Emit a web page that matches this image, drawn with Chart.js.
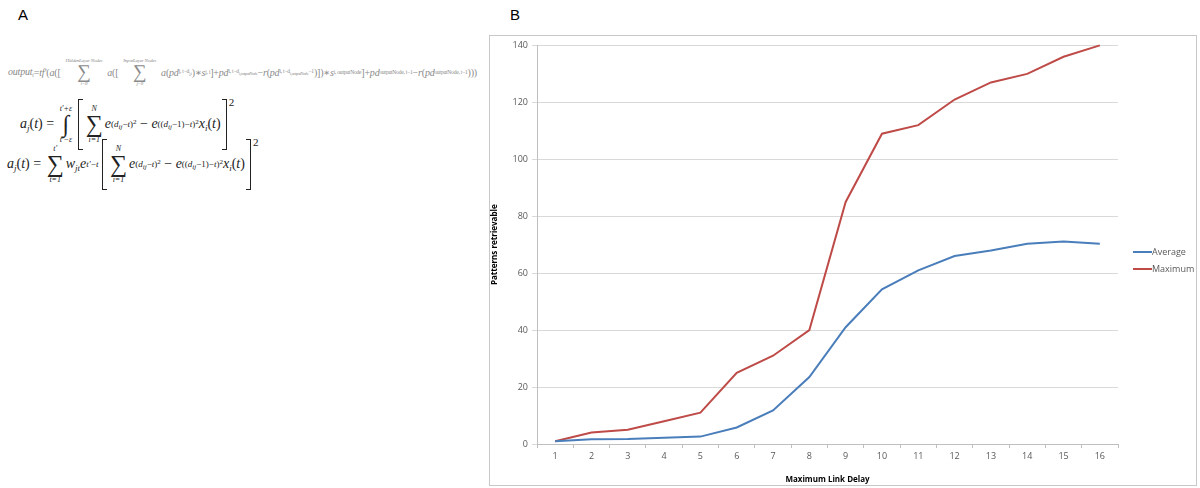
<!DOCTYPE html>
<html>
<head>
<meta charset="utf-8">
<script src="https://cdn.jsdelivr.net/npm/chart.js@4/dist/chart.umd.min.js"></script>
<style>
  html, body { margin: 0; padding: 0; background: #fff; }
  body { width: 1200px; height: 488px; position: relative; overflow: hidden; }
  .panel { position: absolute; font-family: "Liberation Sans", Arial, sans-serif; font-size: 15px; color: #000; }
  .eq { position: absolute; font-family: "Liberation Serif", "DejaVu Serif", serif; white-space: nowrap; display: flex; align-items: center; }
  .eq i { font-style: italic; }
  .lim { display: inline-flex; flex-direction: column; align-items: center; line-height: 1; margin: 0 2px; }
  .lim small { font-size: 8px; font-style: italic; }
  .lim .big { font-size: 24px; line-height: 0.95; }
  .brk { position: relative; display: inline-flex; align-items: center; padding: 3px 6px; }
  .brk::before, .brk::after { content: ""; position: absolute; top: -3px; bottom: -3px; width: 4px; border-top: 1px solid #222; border-bottom: 1px solid #222; }
  .brk::before { left: 0; border-left: 1.5px solid #222; }
  .brk::after { right: 0; border-right: 1.5px solid #222; }
  .eq sup { font-size: 9px; vertical-align: 7px; }
  .eq sub { font-size: 9px; vertical-align: -3px; }
  .eq sup sup { font-size: 7px; vertical-align: 3px; }
  .eq sup sub { font-size: 7px; vertical-align: -2px; }
  .outer { align-self: flex-start; font-size: 11px; margin-top: -6px; margin-left: 2px; }
  #eq1 { color: #8a8a8a; font-size: 10px; letter-spacing: -0.2px; }
  #eq1 .lim small { font-size: 5px; }
  #eq1 .lim .big { font-size: 19px; }
  #eq1 sub { font-size: 5.5px; vertical-align: -2px; }
  #eq1 sub sub { font-size: 4px; }
  #eq2, #eq3 { color: #222; font-size: 14px; }
  #box { position: absolute; left: 489px; top: 35px; width: 706px; height: 449px; border: 1px solid #c8c8c8; }
</style>
</head>
<body>
<div class="panel" style="left:18px; top:6px;">A</div>
<div class="panel" style="left:510px; top:6px;">B</div>

<div class="eq" id="eq1" style="left:8px; top:58px;">
  <i>output<sub>t</sub></i>=<i>tf′</i>(<i>a</i>([
  <span class="lim" style="margin:0 5px 0 5px"><small>HiddenLayer Nodes</small><span class="big">∑</span><small>i=0</small></span>
  <i>a</i>([
  <span class="lim" style="margin:0 5px 0 5px"><small>InputLayer Nodes</small><span class="big">∑</span><small>j=0</small></span>
  <i>a</i>(<i>pd</i><sub>j, t−d<sub>j,i</sub></sub>)∗<i>s</i><sub>j, i</sub>]+<i>pd</i><sub>i, t−d<sub>i,outputNode</sub></sub>−<i>r</i>(<i>pd</i><sub>i, t−d<sub>i,outputNode</sub>−1</sub>)])∗<i>s</i><sub>i, outputNode</sub>]+<i>pd</i><sub>outputNode, t−1</sub>−<i>r</i>(<i>pd</i><sub>outputNode, t−1</sub>)))
</div>

<div class="eq" id="eq2" style="left:20px; top:102px;">
  <i>a<sub>j</sub></i>(<i>t</i>)&nbsp;=&nbsp;
  <span class="lim"><small>t′+ε</small><span class="big">∫</span><small>t′−ε</small></span>&nbsp;
  <span class="brk">
    <span class="lim"><small>N</small><span class="big">∑</span><small>i=1</small></span>
    <i>e</i><sup>(<i>d<sub>ij</sub></i>−<i>t</i>)<sup>2</sup></sup>&nbsp;−&nbsp;<i>e</i><sup>((<i>d<sub>ij</sub></i>−1)−<i>t</i>)<sup>2</sup></sup><i>x<sub>i</sub></i>(<i>t</i>)
  </span><span class="outer">2</span>
</div>

<div class="eq" id="eq3" style="left:7px; top:142px;">
  <i>a<sub>j</sub></i>(<i>t</i>)&nbsp;=&nbsp;
  <span class="lim"><small>t′</small><span class="big">∑</span><small>t=1</small></span>
  <i>w<sub>jt</sub>e</i><sup><i>t′</i>−<i>t</i></sup>&nbsp;
  <span class="brk">
    <span class="lim"><small>N</small><span class="big">∑</span><small>i=1</small></span>
    <i>e</i><sup>(<i>d<sub>ij</sub></i>−<i>t</i>)<sup>2</sup></sup>&nbsp;−&nbsp;<i>e</i><sup>((<i>d<sub>ij</sub></i>−1)−<i>t</i>)<sup>2</sup></sup><i>x<sub>i</sub></i>(<i>t</i>)
  </span><span class="outer">2</span>
</div>

<div id="box"><canvas id="js-chart-delay"></canvas></div>

<script>
// Data
const delays = ['1', '2', '3', '4', '5', '6', '7', '8', '9', '10', '11', '12', '13', '14', '15', '16'];
const average = [1, 1.7, 1.8, 2.2, 2.6, 5.8, 11.8, 23.5, 41, 54.3, 61, 66, 68, 70.3, 71.1, 70.3];
const maximum = [1, 4, 5, 8, 11, 25, 31, 40, 85, 109, 112, 121, 127, 130, 136, 140];
const yMin = 0;
const yMax = 140;
const yStep = 20;

const tickFont = {family: 'Open Sans', size: 9};
const titleFont = {family: 'Open Sans', size: 8, weight: 'bold'};

// Excel-style legend on the right of the plot
const sideLegend = {
  id: 'sideLegend',
  afterDraw(chart) {
    let ctx = chart.ctx;
    let x = chart.chartArea.right + 15;
    let y = 216;
    ctx.save();
    ctx.font = '9px "Open Sans"';
    ctx.textBaseline = 'middle';
    chart.data.datasets.forEach(ds => {
      ctx.strokeStyle = ds.borderColor;
      ctx.lineWidth = 2;
      ctx.beginPath();
      ctx.moveTo(x, y);
      ctx.lineTo(x + 19, y);
      ctx.stroke();
      ctx.fillStyle = '#595959';
      ctx.fillText(ds.label, x + 19, y);
      y += 17;
    });
    ctx.restore();
  }
};

let chartDelay = new Chart(document.getElementById('js-chart-delay'), {
  type: 'line',
  data: {
    labels: delays,
    datasets: [
      {label: 'Average', data: average, borderColor: '#4a7ebb', borderWidth: 2, pointRadius: 0, tension: 0, clip: 4},
      {label: 'Maximum', data: maximum, borderColor: '#be4b48', borderWidth: 2, pointRadius: 0, tension: 0, clip: 4}
    ]
  },
  options: {
    responsive: true,
    maintainAspectRatio: false,
    animation: false,
    layout: {padding: {top: 9, right: 78, bottom: 0, left: 0}},
    plugins: {legend: {display: false}, tooltip: {enabled: false}},
    scales: {
      x: {
        offset: true,
        grid: {offset: true, drawOnChartArea: false, drawTicks: true, tickLength: 4, color: '#bfbfbf'},
        border: {color: '#bfbfbf'},
        ticks: {color: '#595959', font: tickFont, padding: 3, maxRotation: 0},
        title: {display: true, text: 'Maximum Link Delay', color: '#000', font: titleFont, padding: {top: 1, bottom: 0}},
        afterFit(scale) { scale.height = 41; }
      },
      y: {
        min: yMin,
        max: yMax,
        ticks: {stepSize: yStep, color: '#595959', font: tickFont, padding: 4},
        grid: {color: '#d9d9d9', tickLength: 5},
        border: {color: '#bfbfbf'},
        title: {display: true, text: 'Patterns retrievable', color: '#000', font: titleFont, padding: {top: 0, bottom: 0}},
        afterFit(scale) { scale.width = 47; }
      }
    }
  },
  plugins: [sideLegend]
});
</script>
</body>
</html>
